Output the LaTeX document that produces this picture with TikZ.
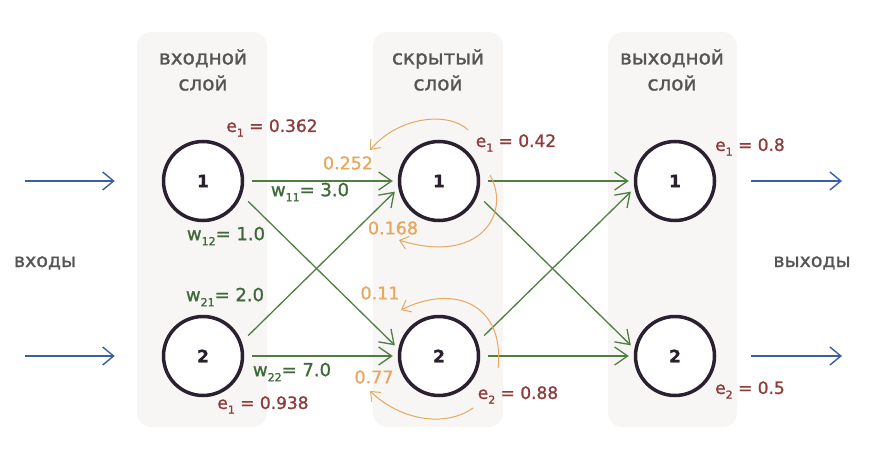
\documentclass[tikz,border=0pt]{standalone}
\usepackage{fontspec}
\setmainfont{DejaVu Sans}[FakeBold=1.2]
\usetikzlibrary{arrows.meta,calc}

\definecolor{inkblue}{HTML}{3B5E9E}
\definecolor{inkgreen}{HTML}{4F7D42}
\definecolor{wgreen}{HTML}{3E6A3A}
\definecolor{errred}{HTML}{8E3B3B}
\definecolor{backorange}{HTML}{E6A85E}
\definecolor{labelgray}{HTML}{555555}
\definecolor{nodeink}{HTML}{2B2030}
\definecolor{panel}{HTML}{F7F6F4}

% lowered index for w_{ij} and e_i
\newcommand\lowidx[1]{\raisebox{-0.28em}{\fontsize{11}{11}\selectfont #1}}

\begin{document}
\begin{tikzpicture}[x=1pt,y=-1pt,
  neuron/.style={circle,draw=nodeink,line width=3.5pt,fill=white,
    minimum size=79pt,inner sep=0pt,text=nodeink,font=\fontsize{17}{17}\selectfont\bfseries},
  layertitle/.style={align=center,text=labelgray,font=\fontsize{20}{26}\selectfont},
  sidelabel/.style={text=labelgray,font=\fontsize{19}{22}\selectfont},
  wlabel/.style={text=wgreen,font=\fontsize{18}{20}\selectfont},
  elabel/.style={text=errred,font=\fontsize{17}{20}\selectfont},
  blabel/.style={text=backorange,font=\fontsize{17.5}{18}\selectfont},
  synapse/.style={draw=inkgreen,line width=1.3pt,
    -{Straight Barb[length=13pt,width=18pt,line width=1.3pt]}},
  feed/.style={draw=inkblue,line width=1.4pt,
    -{Straight Barb[length=11pt,width=18pt,line width=1.4pt]}},
  backprop/.style={draw=backorange,line width=1pt,
    -{Straight Barb[length=8pt,width=13pt,line width=1pt]}},
  layerbg/.style={fill=panel,rounded corners=14pt}
]
\useasboundingbox (0,0) rectangle (882,457);

% layer panels
\fill[layerbg] (137,32) rectangle (267,427);
\fill[layerbg] (373,32) rectangle (503,427);
\fill[layerbg] (608,32) rectangle (737,427);

% layer titles
\node[layertitle] (tin)  at (203,70) {входной\\слой};
\node[layertitle] (thid) at (438,70) {скрытый\\слой};
\node[layertitle] (tout) at (672,70) {выходной\\слой};

% neurons
\node[neuron] (in1) at (203,181) {1};
\node[neuron] (in2) at (203,356) {2};
\node[neuron] (h1)  at (439,181) {1};
\node[neuron] (h2)  at (439,356) {2};
\node[neuron] (o1)  at (675,181) {1};
\node[neuron] (o2)  at (675,356) {2};

% inputs and outputs
\node[sidelabel] (xin)  at (45,263)  {входы};
\node[sidelabel] (yout) at (812,263) {выходы};
\coordinate (x1) at (25,181);
\coordinate (x2) at (25,356);
\coordinate (y1) at (842,181);
\coordinate (y2) at (842,356);
\draw[feed,shorten >=47pt] (x1) -- (in1);
\draw[feed,shorten >=47pt] (x2) -- (in2);
\draw[feed,shorten <=35pt] (o1) -- (y1);
\draw[feed,shorten <=35pt] (o2) -- (y2);

% input -> hidden
\draw[synapse,shorten <=8pt,shorten >=5pt] (in1) -- (h1);
\draw[synapse,shorten <=8pt,shorten >=5pt] (in2) -- (h2);
\draw[synapse,shorten <=9pt,shorten >=5pt] (in1.-20) -- (h2.170);
\draw[synapse,shorten <=9pt,shorten >=5pt] (in2.20) -- (h1.-170);

% hidden -> output
\draw[synapse,shorten <=8pt,shorten >=5pt] (h1) -- (o1);
\draw[synapse,shorten <=8pt,shorten >=5pt] (h2) -- (o2);
\draw[synapse,shorten <=9pt,shorten >=5pt] (h1.-20) -- (o2.170);
\draw[synapse,shorten <=9pt,shorten >=5pt] (h2.20) -- (o1.-170);

% weights
\node[wlabel] (w11) at (310,192) {w\lowidx{11}= 3.0};
\node[wlabel] (w12) at (226,236) {w\lowidx{12}= 1.0};
\node[wlabel] (w21) at (225,297) {w\lowidx{21}= 2.0};
\node[wlabel] (w22) at (292,372) {w\lowidx{22}= 7.0};

% errors
\node[elabel] (ein1) at (272,128) {e\lowidx{1} = 0.362};
\node[elabel] (ein2) at (263,405) {e\lowidx{1} = 0.938};
\node[elabel] (eh1)  at (516,143) {e\lowidx{1} = 0.42};
\node[elabel] (eh2)  at (518,395) {e\lowidx{2} = 0.88};
\node[elabel] (eo1)  at (750,147) {e\lowidx{1} = 0.8};
\node[elabel] (eo2)  at (750,390) {e\lowidx{2} = 0.5};

% back-propagated error shares
\node[blabel] (b11) at (348,163) {0.252};
\node[blabel] (b12) at (393,228) {0.168};
\node[blabel] (b21) at (380,293) {0.11};
\node[blabel] (b22) at (374,377) {0.77};

\draw[backprop] ($(h1)+(29,-51)$) .. controls ($(h1)+(11,-69)$) and ($(h1)+(-39,-66)$) .. ($(h1)+(-69,-31)$);
\draw[backprop] ($(h1)+(51,-6)$) .. controls ($(h1)+(73,34)$) and ($(h1)+(39,84)$) .. ($(h1)+(-40,59)$);
\draw[backprop] ($(h2)+(59,12)$) .. controls ($(h2)+(66,-51)$) and ($(h2)+(16,-73)$) .. ($(h2)+(-38,-46)$);
\draw[backprop] ($(h2)+(34,52)$) .. controls ($(h2)+(6,72)$) and ($(h2)+(-39,64)$) .. ($(h2)+(-69,35)$);

\end{tikzpicture}
\end{document}
